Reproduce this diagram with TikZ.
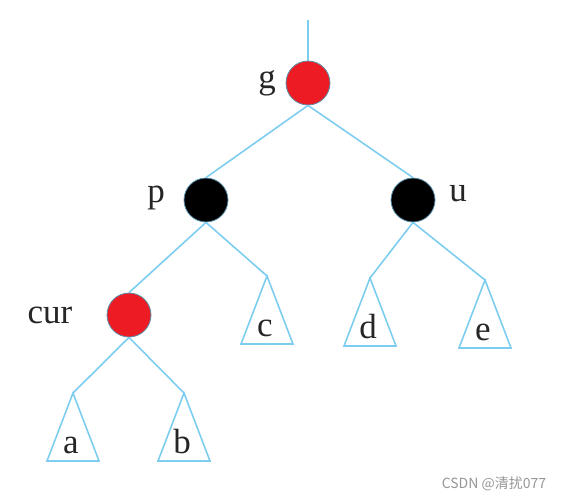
\documentclass[tikz,border=0pt]{standalone}
\usepackage{fontspec}
\setmainfont{Liberation Serif}
\newfontfamily\cjkfont{Noto Sans CJK SC}
\usetikzlibrary{positioning, calc}

\definecolor{linkblue}{RGB}{125,205,240}
\definecolor{nodered}{RGB}{237,28,36}
\definecolor{markgray}{RGB}{150,150,150}

\begin{document}
\begin{tikzpicture}[x=1pt, y=-1pt,
    rbnode/.style={circle, draw=linkblue!70!black, line width=0.8pt, minimum size=44pt, inner sep=0pt},
    rednode/.style={rbnode, fill=nodered},
    blacknode/.style={rbnode, fill=black},
    link/.style={draw=linkblue, line width=1.6pt},
    lbl/.style={anchor=base, font=\fontsize{35}{40}\selectfont, text=black!85},
]
\useasboundingbox (0,0) rectangle (565,499);

% ===================== TREE NODES =====================
\node[rednode]   (g)   at (308,83)  {};
\node[blacknode] (p)   at (206,200) {};
\node[blacknode] (u)   at (413,200) {};
\node[rednode]   (cur) at (129,315) {};

\node[lbl] (lg)   at (267,88)  {g};
\node[lbl] (lp)   at (156,202) {p};
\node[lbl] (lu)   at (458,201) {u};
\node[lbl] (lcur) at (50,323)  {cur};

% ===================== SUBTREES =====================
\foreach \n/\x/\y in {a/73/393, b/184/393, c/267/276, d/370/278, e/485/280} {
    \coordinate (t\n) at (\x,\y);
    \draw[link] (t\n) -- ++(-26,68) -- ++(52,0) -- cycle;
    \node[lbl] (l\n) at ($(t\n)+(-2,60)$) {\n};
}

% ===================== LINKS =====================
\coordinate (top) at (308,20);
\draw[link] (top) -- (g.north);
\draw[link] (g.south) -- (p.north);
\draw[link] (g.south) -- (u.north);
\draw[link] (p.south) -- (cur.north);
\draw[link] (p.south) -- (tc);
\draw[link] (u.south) -- (td);
\draw[link] (u.south) -- (te);
\draw[link] (cur.south) -- (ta);
\draw[link] (cur.south) -- (tb);

% watermark
\node[anchor=base, font=\cjkfont\fontsize{14}{16}\selectfont, text=markgray]
    (mark) at (494,488) {CSDN @清扰077};

\end{tikzpicture}
\end{document}
